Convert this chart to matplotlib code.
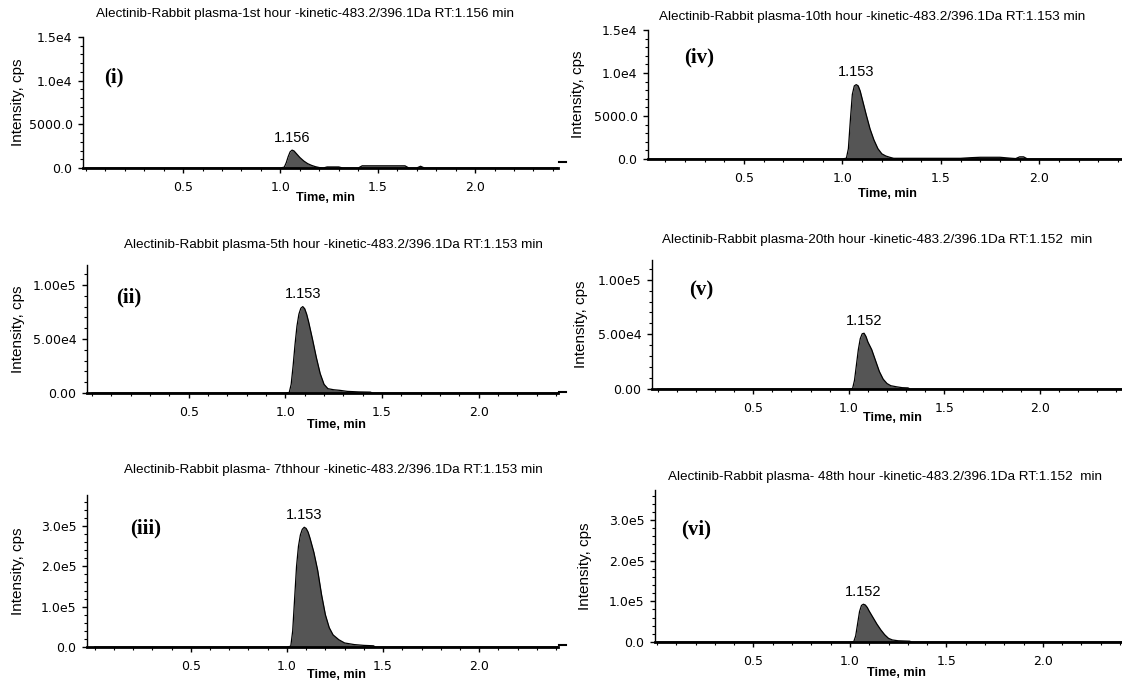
import matplotlib
matplotlib.use("Agg")
import matplotlib.pyplot as plt
from matplotlib.lines import Line2D
from matplotlib.ticker import MultipleLocator

W, H = 1122, 684

# titles of the six chromatograms
titles = [
    "Alectinib-Rabbit plasma-1st hour -kinetic-483.2/396.1Da RT:1.156 min",
    "Alectinib-Rabbit plasma-10th hour -kinetic-483.2/396.1Da RT:1.153 min",
    "Alectinib-Rabbit plasma-5th hour -kinetic-483.2/396.1Da RT:1.153 min",
    "Alectinib-Rabbit plasma-20th hour -kinetic-483.2/396.1Da RT:1.152  min",
    "Alectinib-Rabbit plasma- 7thhour -kinetic-483.2/396.1Da RT:1.153 min",
    "Alectinib-Rabbit plasma- 48th hour -kinetic-483.2/396.1Da RT:1.152  min",
]
panel_tags = ["(i)", "(iv)", "(ii)", "(v)", "(iii)", "(vi)"]
peak_rt = ["1.156", "1.153", "1.153", "1.152", "1.153", "1.152"]

# traces (time in min, intensity in cps)
t_1 = [0.0, 1.00, 1.02, 1.03, 1.04, 1.05, 1.06, 1.07, 1.08, 1.10, 1.12, 1.14, 1.16, 1.18,
       1.20, 1.22, 1.24, 1.30, 1.32, 1.40, 1.42, 1.64, 1.66, 1.70, 1.72, 1.74, 2.45]
y_1 = [0, 0, 100, 600, 1300, 1850, 2050, 1950, 1700, 1200, 800, 500, 300, 150,
       50, 0, 120, 120, 0, 0, 250, 250, 0, 0, 200, 0, 0]

t_10 = [0.0, 1.00, 1.02, 1.03, 1.04, 1.05, 1.06, 1.07, 1.08, 1.09, 1.10, 1.12, 1.14, 1.16,
        1.18, 1.20, 1.22, 1.24, 1.26, 1.60, 1.65, 1.70, 1.80, 1.85, 1.88, 1.90, 1.92, 1.94, 2.45]
y_10 = [0, 0, 100, 1200, 4500, 7500, 8500, 8650, 8500, 7900, 7000, 5200, 3500, 2200,
        1200, 600, 350, 200, 80, 80, 150, 200, 200, 100, 50, 250, 250, 0, 0]

t_5 = [0.0, 1.00, 1.02, 1.03, 1.04, 1.05, 1.06, 1.07, 1.08, 1.09, 1.10, 1.11, 1.12, 1.14,
       1.16, 1.18, 1.20, 1.22, 1.25, 1.28, 1.32, 1.38, 1.44, 1.45, 2.45]
y_5 = [0, 0, 500, 8000, 25000, 45000, 62000, 73000, 78500, 80000, 78000, 73000, 66000, 50000,
       33000, 18000, 8000, 4000, 3000, 2500, 1500, 1000, 800, 0, 0]

t_20 = [0.0, 1.00, 1.02, 1.03, 1.04, 1.05, 1.06, 1.07, 1.08, 1.09, 1.10, 1.12, 1.14, 1.16,
        1.18, 1.20, 1.22, 1.25, 1.28, 1.31, 1.32, 2.45]
y_20 = [0, 0, 500, 8000, 22000, 36000, 46000, 50500, 51000, 48000, 43000, 36000, 26000, 16000,
        9000, 5000, 3000, 2000, 1200, 1000, 0, 0]

t_7 = [0.0, 1.00, 1.02, 1.03, 1.04, 1.05, 1.06, 1.07, 1.08, 1.09, 1.10, 1.11, 1.12, 1.14,
       1.16, 1.18, 1.20, 1.22, 1.24, 1.27, 1.30, 1.35, 1.40, 1.45, 1.46, 2.45]
y_7 = [0, 0, 2000, 40000, 120000, 200000, 250000, 278000, 292000, 297000, 294000, 285000, 270000, 235000,
       190000, 130000, 80000, 48000, 30000, 18000, 10000, 6000, 4000, 3000, 0, 0]

t_48 = [0.0, 1.00, 1.02, 1.03, 1.04, 1.05, 1.06, 1.07, 1.08, 1.09, 1.10, 1.12, 1.14, 1.16,
        1.18, 1.20, 1.22, 1.25, 1.28, 1.31, 1.32, 2.45]
y_48 = [0, 0, 1000, 15000, 45000, 75000, 90000, 93000, 91000, 85000, 76000, 60000, 44000, 30000,
        18000, 9000, 5000, 3000, 2500, 2000, 0, 0]

times = [t_1, t_10, t_5, t_20, t_7, t_48]
intens = [y_1, y_10, y_5, y_20, y_7, y_48]

# y ticks and their labels per panel
yticks = [[0, 5000, 10000, 15000], [0, 5000, 10000, 15000],
          [0, 50000, 100000], [0, 50000, 100000],
          [0, 100000, 200000, 300000], [0, 100000, 200000, 300000]]
ylabels = [["0.0", "5000.0", "1.0e4", "1.5e4"], ["0.0", "5000.0", "1.0e4", "1.5e4"],
           ["0.00", "5.00e4", "1.00e5"], ["0.00", "5.00e4", "1.00e5"],
           ["0.0", "1.0e5", "2.0e5", "3.0e5"], ["0.0", "1.0e5", "2.0e5", "3.0e5"]]
ytops = [15000, 15000, 118500, 118000, 377000, 374000]
yminor = [1000, 1000, 10000, 10000, 20000, 20000]
xticks = [0.5, 1.0, 1.5, 2.0]

# layout in pixels: axes box (left, top, right, bottom) and text anchors
boxes = [(83, 37, 558, 168), (648, 30, 1122, 159),
         (87, 265, 558, 393), (652, 260, 1122, 389),
         (87, 495, 558, 647), (655, 490, 1122, 642)]
xlims = [(-0.014, 2.426), (0.012, 2.42), (-0.026, 2.41), (-0.03, 2.43), (-0.04, 2.41), (-0.01, 2.41)]
title_pos = [(305, 14), (872, 17), (333, 245), (877, 240), (333, 470), (885, 477)]
tag_pos = [(114, 77), (699, 57), (129, 297), (701, 290), (146, 528), (696, 529)]
xlab_pos = [(325, 198), (887, 194), (336, 425), (892, 418), (336, 675), (896, 673)]
ylab_x = [18, 578, 18, 581, 18, 585]

fig = plt.figure(figsize=(W / 100, H / 100), dpi=100)
sans = "Liberation Sans"

for k in range(6):
    l, t, r, b = boxes[k]
    ax = fig.add_axes([l / W, 1 - b / H, (r - l) / W, (b - t) / H])
    ax.patch.set_alpha(0)
    x, y = times[k], intens[k]
    ax.fill_between(x, y, 0, color="#555555", lw=0)
    ax.plot(x, y, color="black", lw=0.9)
    ax.set_xlim(*xlims[k])
    ax.set_ylim(0, ytops[k])
    for s in ["top", "right"]:
        ax.spines[s].set_visible(False)
    ax.spines["left"].set_linewidth(1.0)
    ax.spines["bottom"].set_linewidth(2.0)
    ax.set_xticks(xticks)
    ax.set_xticklabels([f"{v:.1f}" for v in xticks], fontsize=9, family="DejaVu Sans")
    ax.set_yticks(yticks[k])
    ax.set_yticklabels(ylabels[k], fontsize=9, family="DejaVu Sans")
    ax.xaxis.set_minor_locator(MultipleLocator(0.1))
    ax.yaxis.set_minor_locator(MultipleLocator(yminor[k]))
    ax.tick_params(which="major", direction="out", length=3.5, width=1, pad=4)
    ax.tick_params(axis="x", which="major", pad=6)
    ax.tick_params(which="minor", direction="out", length=2, width=0.8)

    # retention time label at the apex
    i_max = y.index(max(y))
    ax.annotate(peak_rt[k], (x[i_max], y[i_max]), xytext=(0, 4), textcoords="offset points",
                ha="center", va="bottom", fontsize=10.5, family=sans)

    fig.text(title_pos[k][0] / W, 1 - title_pos[k][1] / H, titles[k],
             ha="center", va="center", fontsize=9.7, family=sans)
    fig.text(tag_pos[k][0] / W, 1 - tag_pos[k][1] / H, panel_tags[k],
             ha="center", va="center", fontsize=15, family="Liberation Serif", weight="bold")
    fig.text(xlab_pos[k][0] / W, 1 - xlab_pos[k][1] / H, "Time, min",
             ha="center", va="center", fontsize=9.2, family=sans, weight="bold")
    fig.text(ylab_x[k] / W, 1 - ((t + b) / 2) / H, "Intensity, cps",
             ha="center", va="center", rotation=90, fontsize=11, family=sans)

    # leftover bits of the cropped axis line left of the right-hand panels
    if l > W / 2:
        fig.add_artist(Line2D([559 / W, 566 / W], [1 - (b + 3) / H] * 2, color="black", lw=1.5))

fig.savefig("out.png", dpi=100)
